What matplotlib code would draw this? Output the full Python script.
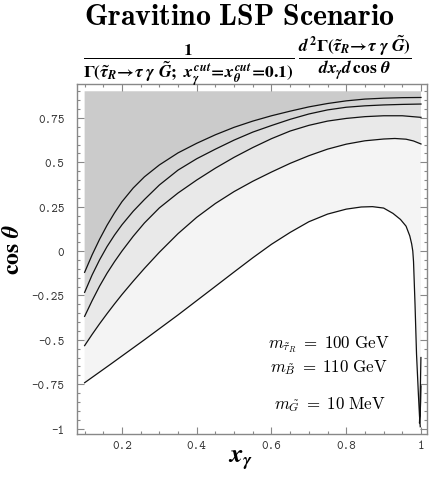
import numpy as np
import matplotlib
matplotlib.use("Agg")
import matplotlib.pyplot as plt
from matplotlib.ticker import MultipleLocator

plt.rcParams['mathtext.fontset'] = 'custom'
plt.rcParams['mathtext.rm'] = 'STIXGeneral:bold'
plt.rcParams['mathtext.it'] = 'STIXGeneral:italic:bold'
plt.rcParams['mathtext.bf'] = 'STIXGeneral:bold'
plt.rcParams['axes.unicode_minus'] = False

# ---- data ----
x_min, x_max = 0.10, 1.00
y_min, y_max = -1.00, 0.90

line1_x = [0.10, 0.12, 0.14, 0.16, 0.18, 0.20, 0.23, 0.26, 0.30, 0.35, 0.40, 0.45, 0.50, 0.55, 0.60, 0.65, 0.70, 0.75, 0.80, 0.85, 0.90, 0.95, 1.00]
line1_y = [-0.12, -0.022, 0.066, 0.145, 0.215, 0.278, 0.355, 0.418, 0.485, 0.553, 0.607, 0.655, 0.697, 0.732, 0.762, 0.788, 0.812, 0.831, 0.846, 0.856, 0.861, 0.864, 0.865]

line2_x = [0.10, 0.12, 0.14, 0.16, 0.18, 0.20, 0.23, 0.26, 0.30, 0.35, 0.40, 0.45, 0.50, 0.55, 0.60, 0.65, 0.70, 0.75, 0.80, 0.85, 0.90, 0.95, 1.00]
line2_y = [-0.233, -0.135, -0.05, 0.025, 0.09, 0.148, 0.224, 0.29, 0.372, 0.456, 0.52, 0.574, 0.625, 0.67, 0.707, 0.742, 0.772, 0.795, 0.81, 0.818, 0.823, 0.826, 0.828]

line3_x = [0.10, 0.12, 0.14, 0.16, 0.18, 0.20, 0.23, 0.26, 0.30, 0.35, 0.40, 0.45, 0.50, 0.55, 0.60, 0.65, 0.70, 0.75, 0.80, 0.85, 0.90, 0.95, 1.00]
line3_y = [-0.368, -0.28, -0.198, -0.125, -0.06, 0.0, 0.083, 0.158, 0.243, 0.327, 0.40, 0.467, 0.528, 0.583, 0.633, 0.676, 0.708, 0.732, 0.747, 0.757, 0.762, 0.762, 0.753]

line4_x = [0.10, 0.12, 0.14, 0.16, 0.18, 0.20, 0.23, 0.26, 0.30, 0.35, 0.40, 0.45, 0.50, 0.55, 0.60, 0.65, 0.70, 0.75, 0.80, 0.85, 0.90, 0.93, 0.96, 0.98, 1.00]
line4_y = [-0.533, -0.47, -0.41, -0.353, -0.298, -0.245, -0.17, -0.098, -0.007, 0.098, 0.19, 0.268, 0.335, 0.393, 0.445, 0.494, 0.537, 0.574, 0.602, 0.621, 0.631, 0.634, 0.63, 0.62, 0.603]

line5_x = [0.10, 0.17, 0.26, 0.35, 0.44, 0.50, 0.55, 0.60, 0.65, 0.70, 0.75, 0.80, 0.84, 0.87, 0.90, 0.925, 0.945, 0.96, 0.97, 0.975, 0.978, 0.98, 0.984, 0.988, 0.993, 0.996, 0.998]
line5_y = [-0.742, -0.637, -0.50, -0.36, -0.215, -0.118, -0.038, 0.038, 0.105, 0.165, 0.208, 0.236, 0.248, 0.25, 0.242, 0.212, 0.178, 0.14, 0.085, 0.04, 0.0, -0.06, -0.30, -0.58, -0.806, -0.93, -0.99]

spike_x = [0.9998, 0.9985, 0.997, 0.996, 0.9975, 0.999, 1.0]
spike_y = [-0.60, -0.75, -0.88, -0.97, -0.93, -0.85, -0.76]

shades = ['#cbcbcb', '#d6d6d6', '#dfdfdf', '#e9e9e9', '#f4f4f4']

title = r'$\mathbf{Gravitino\ LSP\ Scenario}$'
subtitle = (r'$\dfrac{1}{\Gamma(\tilde{\tau}_R\!\rightarrow\!\tau\ \gamma\ \tilde{G};\ x_\gamma^{cut}\!=\!x_\theta^{cut}\!=\!0.1)}'
            r'\;\dfrac{d^2\Gamma(\tilde{\tau}_R\!\rightarrow\!\tau\ \gamma\ \tilde{G})}{dx_\gamma d\,\cos\,\theta}$')
notes = [r'$m_{\tilde{\tau}_R}\;=\;100\ \mathrm{GeV}$',
         r'$m_{\tilde{B}}\;=\;110\ \mathrm{GeV}$',
         r'$m_{\tilde{G}}\;=\;10\ \mathrm{MeV}$']
xtick_vals = [0.2, 0.4, 0.6, 0.8, 1.0]
xtick_labels = ['0.2', '0.4', '0.6', '0.8', '1']
ytick_vals = [-1, -0.75, -0.5, -0.25, 0, 0.25, 0.5, 0.75]
ytick_labels = ['-1', '-0.75', '-0.5', '-0.25', '0', '0.25', '0.5', '0.75']

# ---- figure ----
fig = plt.figure(figsize=(4.36, 4.81), dpi=100)
ax = fig.add_axes([0.1766, 0.0956, 0.8028, 0.7277])
ax.set_xlim(0.0796, 1.0161)
ax.set_ylim(-1.031, 0.941)

lines = [(line1_x, line1_y), (line2_x, line2_y), (line3_x, line3_y),
         (line4_x, line4_y), (line5_x, line5_y)]

# band above line 1
ax.fill(list(line1_x) + [x_max, x_min], list(line1_y) + [y_max, y_max],
        color=shades[0], lw=0)
# bands between consecutive contour lines
for k in range(3):
    ux, uy = lines[k]
    lx, ly = lines[k + 1]
    ax.fill(list(ux) + list(lx[::-1]), list(uy) + list(ly[::-1]),
            color=shades[k + 1], lw=0)
# band between line 4 and line 5 (closing along right edge)
ax.fill(list(line4_x) + [x_max] + list(line5_x[::-1]),
        list(line4_y) + [y_min] + list(line5_y[::-1]),
        color=shades[4], lw=0)

for lx, ly in lines:
    ax.plot(lx, ly, color='#111111', lw=0.9)
ax.plot(spike_x, spike_y, color='#111111', lw=0.9)

# ticks
ax.set_xticks(xtick_vals)
ax.set_xticklabels(xtick_labels)
ax.set_yticks(ytick_vals)
ax.set_yticklabels(ytick_labels)
ax.xaxis.set_minor_locator(MultipleLocator(0.05))
ax.yaxis.set_minor_locator(MultipleLocator(0.05))
ax.tick_params(which='both', direction='in', top=True, right=True,
               color='#888888', width=0.8)
ax.tick_params(which='major', length=5)
ax.tick_params(which='minor', length=2.5)
ax.tick_params(axis='y', which='major', pad=9)
ax.tick_params(axis='x', which='major', pad=4)
for lab in ax.get_xticklabels() + ax.get_yticklabels():
    lab.set_fontfamily('cmtt10')
    lab.set_fontsize(9)
    lab.set_color('#333333')
for sp in ax.spines.values():
    sp.set_color('#888888')
    sp.set_linewidth(1.0)

ax.set_xlabel(r'$x_\gamma$', fontsize=19)
ax.xaxis.set_label_coords(0.466, -0.035)
ax.set_ylabel(r'$\cos\,\theta$', fontsize=17)
ax.yaxis.set_label_coords(-0.152, 0.53)

fig.text(0.549, 0.966, title, fontsize=21.5, ha='center', va='center',
         math_fontfamily='cm')
fig.text(0.568, 0.873, subtitle, fontsize=12.6, ha='center', va='center')

note_pos = [(0.894, 0.283), (0.890, 0.235), (0.885, 0.158)]
for (nx, ny), t in zip(note_pos, notes):
    fig.text(nx, ny, t, fontsize=12.2, ha='right', va='center',
             math_fontfamily='cm')

fig.savefig('out.png', dpi=100)
